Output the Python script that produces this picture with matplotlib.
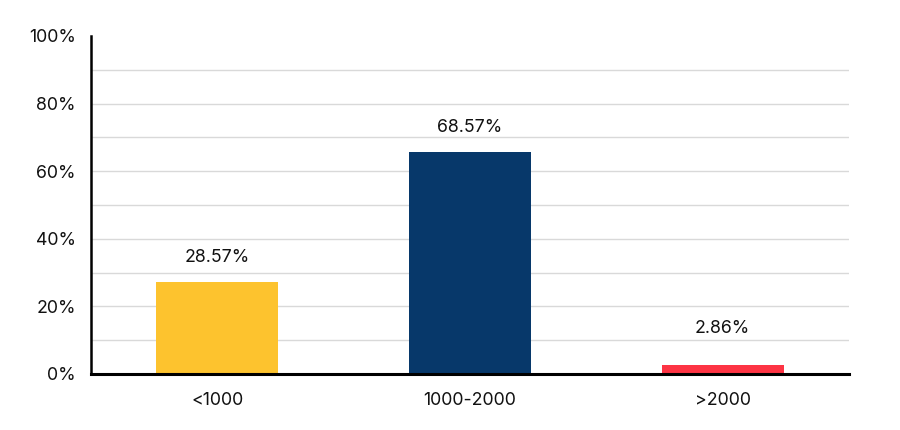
import matplotlib
matplotlib.use('Agg')
import matplotlib.pyplot as plt
from matplotlib.ticker import MultipleLocator, FuncFormatter

plt.rcParams['font.family'] = ['Inter', 'DejaVu Sans']

categories = ['<1000', '1000-2000', '>2000']
# bar heights as drawn in the picture (%), and the labels printed above them
heights = [27.2, 65.6, 2.7]
labels = ['28.57%', '68.57%', '2.86%']
colors = ['#fdc32e', '#07386a', '#fd3444']

fig = plt.figure(figsize=(9, 4.3), dpi=100)
ax = fig.add_axes([91 / 900, 56 / 430, 758 / 900, 338 / 430])

x = range(len(categories))
ax.bar(x, heights, width=0.483, color=colors, zorder=3)

for xi, h, lab in zip(x, heights, labels):
    ax.text(xi, max(h, 6) + 7.4, lab, ha='center', va='center', fontsize=12.8, color='#111111')

ax.set_xlim(-0.5, 2.5)
ax.set_ylim(0, 100)
ax.yaxis.set_major_locator(MultipleLocator(20))
ax.yaxis.set_major_formatter(FuncFormatter(lambda v, p: f'{v:.0f}%'))
ax.set_xticks(list(x))
ax.set_xticklabels(categories)

# light grid every 10%, none at the top edge
for g in range(10, 100, 10):
    ax.axhline(g, color='#d9d9d9', lw=1, zorder=1)

ax.tick_params(axis='both', length=0, labelsize=12.8, colors='#111111')
ax.tick_params(axis='y', pad=11)
ax.tick_params(axis='x', pad=13)

for s in ['top', 'right']:
    ax.spines[s].set_visible(False)
ax.spines['left'].set_linewidth(1.8)
ax.spines['bottom'].set_linewidth(2.2)
ax.spines['bottom'].set_zorder(4)

fig.savefig('out.png', dpi=100, facecolor='white')
